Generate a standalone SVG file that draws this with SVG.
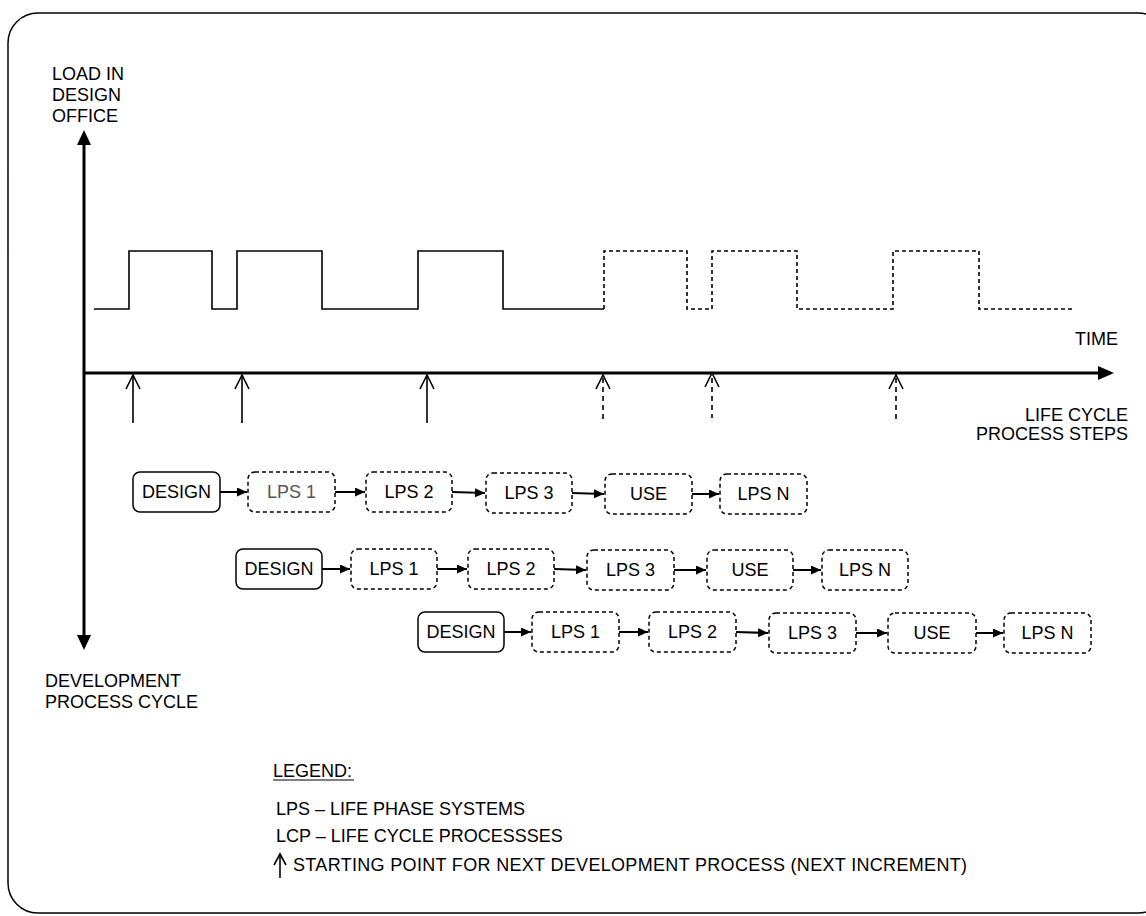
<svg xmlns="http://www.w3.org/2000/svg" width="1146" height="916" viewBox="0 0 1146 916">
<defs>
<marker id="ah" markerUnits="userSpaceOnUse" markerWidth="11" markerHeight="10" refX="10" refY="4.5" orient="auto">
<path d="M0,0 L10,4.5 L0,9 z" fill="#000"/>
</marker>
<style>
text{font-family:"Liberation Sans",Arial,sans-serif;font-size:18px;fill:#000}
.box{fill:#fff;stroke:#000;stroke-width:1.5}
.dbox{fill:#fff;stroke:#000;stroke-width:1.5;stroke-dasharray:4,3}
.lbl{text-anchor:middle}
.conn{stroke:#000;stroke-width:2;fill:none;marker-end:url(#ah)}
.wave{stroke:#000;stroke-width:1.6;fill:none}
.dwave{stroke:#000;stroke-width:1.6;fill:none;stroke-dasharray:4,3}
.up{stroke:#000;stroke-width:1.6;fill:none}
.dup{stroke:#000;stroke-width:1.6;fill:none;stroke-dasharray:5,4}
</style>
</defs>
<rect x="0" y="0" width="1146" height="916" fill="#fff"/>
<rect x="8" y="13" width="1160" height="900" rx="30" ry="30" fill="none" stroke="#000" stroke-width="1.5"/>

<g id="axes">
<line x1="84" y1="143" x2="84" y2="637" stroke="#000" stroke-width="3"/>
<polygon points="84,130 77,145 91,145" fill="#000"/>
<polygon points="84,650 77,635 91,635" fill="#000"/>
<line x1="84" y1="373" x2="1100" y2="373" stroke="#000" stroke-width="3"/>
<polygon points="1114,373 1098,366 1098,380" fill="#000"/>
</g>

<g id="labels">
<text x="52" y="80">LOAD IN</text>
<text x="52" y="101">DESIGN</text>
<text x="52" y="122">OFFICE</text>
<text x="1118" y="345" text-anchor="end">TIME</text>
<text x="1128" y="421" text-anchor="end">LIFE CYCLE</text>
<text x="1128" y="440" text-anchor="end">PROCESS STEPS</text>
<text x="45" y="687">DEVELOPMENT</text>
<text x="45" y="708">PROCESS CYCLE</text>
</g>

<g id="waveform">
<path class="wave" d="M94,309 H129 V251 H212 V309 H237 V251 H322 V309 H418 V251 H503 V309 H604"/>
<path class="dwave" d="M604,309 V251 H687 V309 H712 V251 H797 V309 H893 V251 H979 V309 H1074"/>
</g>

<g id="start-arrows">
<line class="up" x1="133" y1="375" x2="133" y2="423"/>
<path class="up" d="M126,389 L133,375 L140,389"/>
<line class="up" x1="242" y1="375" x2="242" y2="423"/>
<path class="up" d="M235,389 L242,375 L249,389"/>
<line class="up" x1="427" y1="375" x2="427" y2="423"/>
<path class="up" d="M420,389 L427,375 L434,389"/>
<line class="dup" x1="603" y1="378" x2="603" y2="423"/>
<path class="up" d="M596,389 L603,375 L610,389"/>
<line class="dup" x1="712" y1="378" x2="712" y2="418"/>
<path class="up" d="M705,387 L712,373 L719,387"/>
<line class="dup" x1="896" y1="378" x2="896" y2="423"/>
<path class="up" d="M889,389 L896,375 L903,389"/>
</g>

<g id="row1">
<g id="r1-design"><rect class="box" x="133" y="472" width="87" height="40" rx="7"/><text class="lbl" x="176.5" y="498">DESIGN</text></g>
<g id="r1-lps1"><rect class="dbox" x="248" y="472" width="87" height="40" rx="7"/><text class="lbl" x="291.5" y="498" style="fill:#555">LPS 1</text></g>
<g id="r1-lps2"><rect class="dbox" x="366" y="472" width="86" height="40" rx="7"/><text class="lbl" x="409" y="498">LPS 2</text></g>
<g id="r1-lps3"><rect class="dbox" x="486" y="473" width="86" height="40" rx="7"/><text class="lbl" x="529" y="499">LPS 3</text></g>
<g id="r1-use"><rect class="dbox" x="605" y="474" width="87" height="40" rx="7"/><text class="lbl" x="648.5" y="500">USE</text></g>
<g id="r1-lpsn"><rect class="dbox" x="720" y="474" width="87" height="40" rx="7"/><text class="lbl" x="763.5" y="500">LPS N</text></g>
</g>

<g id="row2">
<g id="r2-design"><rect class="box" x="236" y="549" width="86" height="40" rx="7"/><text class="lbl" x="279" y="575">DESIGN</text></g>
<g id="r2-lps1"><rect class="dbox" x="351" y="549" width="86" height="40" rx="7"/><text class="lbl" x="394" y="575">LPS 1</text></g>
<g id="r2-lps2"><rect class="dbox" x="468" y="549" width="86" height="40" rx="7"/><text class="lbl" x="511" y="575">LPS 2</text></g>
<g id="r2-lps3"><rect class="dbox" x="587" y="550" width="87" height="40" rx="7"/><text class="lbl" x="630.5" y="576">LPS 3</text></g>
<g id="r2-use"><rect class="dbox" x="707" y="550" width="86" height="40" rx="7"/><text class="lbl" x="750" y="576">USE</text></g>
<g id="r2-lpsn"><rect class="dbox" x="822" y="550" width="86" height="40" rx="7"/><text class="lbl" x="865" y="576">LPS N</text></g>
</g>

<g id="row3">
<g id="r3-design"><rect class="box" x="418" y="612" width="86" height="40" rx="7"/><text class="lbl" x="461" y="638">DESIGN</text></g>
<g id="r3-lps1"><rect class="dbox" x="532" y="612" width="87" height="40" rx="7"/><text class="lbl" x="575.5" y="638">LPS 1</text></g>
<g id="r3-lps2"><rect class="dbox" x="649" y="612" width="87" height="40" rx="7"/><text class="lbl" x="692.5" y="638">LPS 2</text></g>
<g id="r3-lps3"><rect class="dbox" x="769" y="613" width="87" height="40" rx="7"/><text class="lbl" x="812.5" y="639">LPS 3</text></g>
<g id="r3-use"><rect class="dbox" x="888" y="613" width="88" height="40" rx="7"/><text class="lbl" x="932" y="639">USE</text></g>
<g id="r3-lpsn"><rect class="dbox" x="1004" y="613" width="87" height="40" rx="7"/><text class="lbl" x="1047.5" y="639">LPS N</text></g>
</g>

<g id="connectors">
<line class="conn" x1="220" y1="492" x2="247" y2="492"/>
<line class="conn" x1="335" y1="492" x2="365" y2="492"/>
<line class="conn" x1="452" y1="492" x2="485" y2="493"/>
<line class="conn" x1="572" y1="493" x2="604" y2="494"/>
<line class="conn" x1="692" y1="494" x2="719" y2="494"/>
<line class="conn" x1="322" y1="569" x2="350" y2="569"/>
<line class="conn" x1="437" y1="569" x2="467" y2="569"/>
<line class="conn" x1="554" y1="569" x2="586" y2="570"/>
<line class="conn" x1="674" y1="570" x2="706" y2="570"/>
<line class="conn" x1="793" y1="570" x2="821" y2="570"/>
<line class="conn" x1="504" y1="632" x2="531" y2="632"/>
<line class="conn" x1="619" y1="632" x2="648" y2="632"/>
<line class="conn" x1="736" y1="632" x2="768" y2="633"/>
<line class="conn" x1="856" y1="633" x2="887" y2="633"/>
<line class="conn" x1="976" y1="633" x2="1003" y2="633"/>
</g>

<g id="legend">
<text x="273" y="777">LEGEND:</text>
<line x1="273" y1="780" x2="354" y2="780" stroke="#000" stroke-width="1.2"/>
<text x="276" y="815">LPS – LIFE PHASE SYSTEMS</text>
<text x="276" y="842">LCP – LIFE CYCLE PROCESSSES</text>
<line class="up" x1="280" y1="854" x2="280" y2="878"/>
<path class="up" d="M274,865 L280,854 L286,865"/>
<text x="293" y="871" textLength="674" lengthAdjust="spacing">STARTING POINT FOR NEXT DEVELOPMENT PROCESS (NEXT INCREMENT)</text>
</g>
</svg>
